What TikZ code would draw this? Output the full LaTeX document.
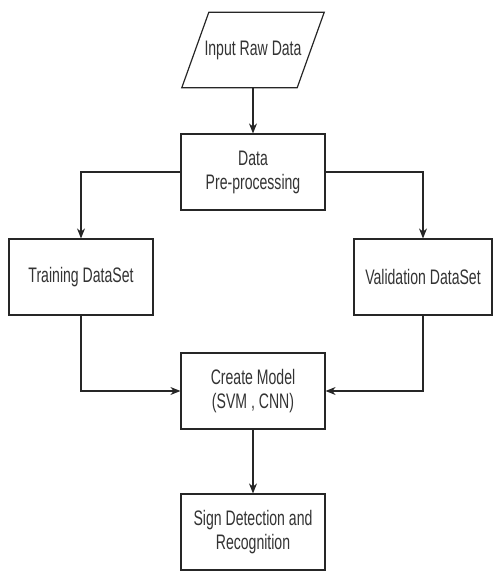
\documentclass[tikz,border=0pt]{standalone}
\usepackage{fontspec}
\setmainfont[FakeStretch=0.67]{Liberation Sans}
\usetikzlibrary{arrows.meta}

\begin{document}
\begin{tikzpicture}[
  x=1pt, y=-1pt,
  font=\fontsize{21}{24}\selectfont,
  step box/.style={draw=black!85, line width=1.2pt, fill=white, text=black!80,
    minimum width=144pt, minimum height=76pt, align=center, inner sep=2pt},
  io box/.style={text=black!80, minimum width=115pt, minimum height=75pt, inner sep=2pt},
  outline/.style={draw=black!85, line width=1.2pt, line join=miter},
  flow/.style={-{Stealth[length=10pt, width=8pt]}, line width=1.2pt, draw=black!85}
]
\useasboundingbox (0,0) rectangle (493,581);

% Main column.
\node[io box] (input) at (253,50) {Input Raw Data};
\draw[outline] ([xshift=13.5pt]input.north west) -- ([xshift=13.5pt]input.north east)
  -- ([xshift=-13.5pt]input.south east) -- ([xshift=-13.5pt]input.south west) -- cycle;
\node[step box] (prep) at (253,172) {Data\\Pre-processing};
\node[step box] (model) at (253,391) {Create Model\\(SVM , CNN)};
\node[step box] (sign) at (253,532) {Sign Detection and\\Recognition};

% Split datasets.
\node[step box] (train) at (81,277) {Training DataSet};
\node[step box, minimum width=138pt] (valid) at (423,277) {Validation DataSet};

% Connectors.
\draw[flow] (input) -- (prep);
\draw[flow] (prep.west) -| (train.north);
\draw[flow] (prep.east) -| (valid.north);
\draw[flow] (train.south) |- (model.west);
\draw[flow] (valid.south) |- (model.east);
\draw[flow] (model) -- (sign);

\end{tikzpicture}
\end{document}
